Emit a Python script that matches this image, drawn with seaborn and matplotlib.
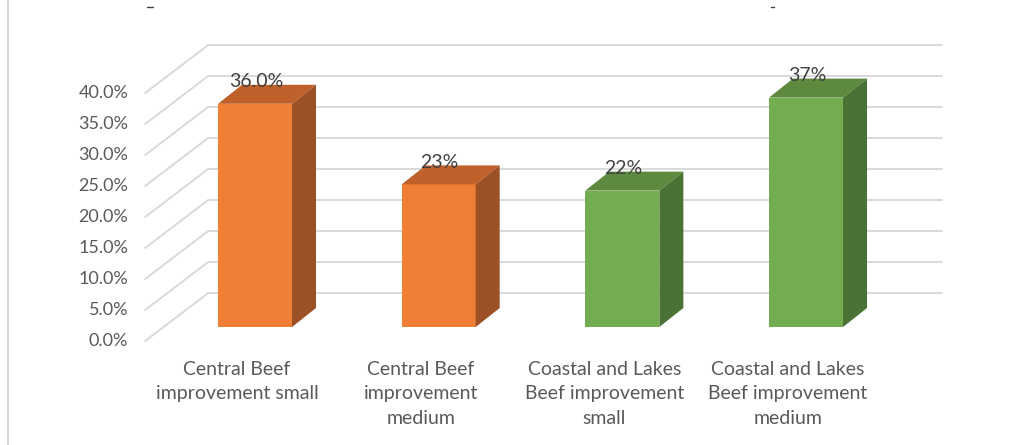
import matplotlib
matplotlib.use("Agg")
import matplotlib.pyplot as plt
from matplotlib.patches import Polygon
from matplotlib.lines import Line2D
import seaborn as sns
import pandas as pd

# Data
categories = [
    "Central Beef\nimprovement small",
    "Central Beef\nimprovement\nmedium",
    "Coastal and Lakes\nBeef improvement\nsmall",
    "Coastal and Lakes\nBeef improvement\nmedium",
]
regions = ["Central", "Central", "Coastal", "Coastal"]
values = [36.0, 23.0, 22.0, 37.0]
value_labels = ["36.0%", "23%", "22%", "37%"]
y_ticks = [0, 5, 10, 15, 20, 25, 30, 35, 40]
y_tick_labels = [f"{t:.1f}%" for t in y_ticks]

# Face colours: front / top / side
front_colors = {"Central": "#F07F36", "Coastal": "#73AD50"}
top_colors = {"Central": "#C0612B", "Coastal": "#5D8A3F"}
side_colors = {"Central": "#9C5026", "Coastal": "#4A7234"}

TEXT = "#595959"
GRID = "#D9D9D9"
FONT = ["Lato", "DejaVu Sans"]

sns.set_theme(style="white")
plt.rcParams["font.family"] = FONT

W, H = 1013, 445
fig = plt.figure(figsize=(W / 100, H / 100), dpi=100)
fig.patch.set_facecolor("white")

# Axes covering the plane of the bar fronts
unit_px = 183.67
left_px = 255 - unit_px
ax = fig.add_axes([left_px / W, 118 / H, 5 * unit_px / W, 248 / H])

df = pd.DataFrame({"category": categories, "value": values, "region": regions})
sns.barplot(data=df, x="category", y="value", hue="region",
            palette=front_colors, saturation=1, dodge=False, width=0.403,
            edgecolor="none", linewidth=0, legend=False, ax=ax, zorder=3)

ax.set_xlim(-1, 4)
ax.set_ylim(0, 40)
ax.axis("off")

px_x = unit_px            # pixels per category unit
px_y = 248 / 40.0          # pixels per percentage point


def shift(x, y, dx_px, dy_px):
    return x + dx_px / px_x, y + dy_px / px_y


FRONT = (-18, -14)   # front wall plane relative to bar fronts
BACK = (45, 34)      # back wall plane relative to bar fronts
DEPTH = (24, 19)     # bar depth

# Gridlines: floor-to-back diagonals plus back-wall horizontals
x_left, x_right = -0.5, 3.495
for t, lab in zip(y_ticks, y_tick_labels):
    fx, fy = shift(x_left, t, *FRONT)
    bx, by = shift(x_left, t, *BACK)
    ex, ey = shift(x_right, t, *BACK)
    ax.add_line(Line2D([fx, bx, ex], [fy, by, ey], color=GRID, lw=1.4,
                       zorder=0, clip_on=False, solid_joinstyle="miter"))
    tx, ty = shift(x_left, t, FRONT[0] - 17, FRONT[1])
    ax.text(tx, ty, lab, ha="right", va="center", fontsize=13,
            color=TEXT, clip_on=False)

# Top and side faces of each bar
half = 0.403 / 2
for i, (v, r) in enumerate(zip(values, regions)):
    xl, xr = i - half, i + half
    top = [(xl, v), (xr, v), shift(xr, v, *DEPTH), shift(xl, v, *DEPTH)]
    side = [(xr, 0), (xr, v), shift(xr, v, *DEPTH), shift(xr, 0, *DEPTH)]
    ax.add_patch(Polygon(top, closed=True, facecolor=top_colors[r],
                         edgecolor="none", zorder=3, clip_on=False))
    ax.add_patch(Polygon(side, closed=True, facecolor=side_colors[r],
                         edgecolor="none", zorder=3, clip_on=False))
    ax.annotate(value_labels[i], (i, v), xytext=(1, 22),
                textcoords="offset pixels", ha="center", va="center",
                fontsize=14, color="#404040", zorder=5,
                annotation_clip=False)

# Category labels on the front plane
for i, c in enumerate(categories):
    cx, cy = shift(i, 0, FRONT[0], FRONT[1] - 20)
    ax.text(cx, cy, c, ha="center", va="top", fontsize=14,
            color=TEXT, linespacing=1.52, clip_on=False)

# Chart frame edge on the left and clipped title fragments along the top
fig.add_artist(Line2D([7.5 / W, 7.5 / W], [0, 1], transform=fig.transFigure,
                      color=GRID, lw=1.5))
for x0, x1 in [(147, 153), (771, 774)]:
    fig.add_artist(Line2D([x0 / W, x1 / W], [1 - 7 / H, 1 - 7 / H],
                          transform=fig.transFigure, color="#404040", lw=1))

fig.savefig("out.png", dpi=100, facecolor="white")
